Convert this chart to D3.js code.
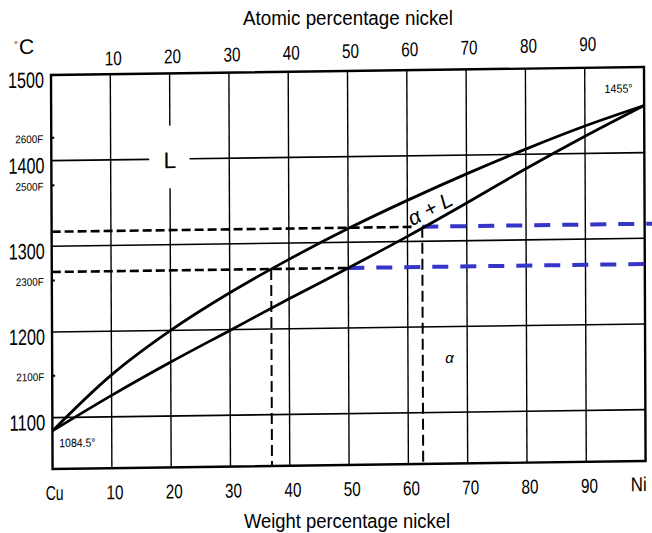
<!DOCTYPE html>
<html>
<head>
<meta charset="utf-8">
<script src="https://cdn.jsdelivr.net/npm/d3@7/dist/d3.min.js"></script>
<style>
  html, body { margin: 0; padding: 0; background: #fff; }
  svg { display: block; }
  text { font-family: "Liberation Sans", Arial, sans-serif; fill: #000; }
</style>
</head>
<body>
<svg id="chart" width="652" height="533"></svg>
<script>
// ---------- data ----------
const weightPct   = [0, 10, 20, 30, 40, 50, 60, 70, 80, 90, 100];
const liquidusC   = [1084.5, 1149, 1200, 1243, 1281, 1316, 1348, 1378, 1406, 1432, 1455];
const solidusC    = [1084.5, 1125, 1163, 1199, 1235, 1270, 1306, 1344, 1383, 1420, 1455];
const weightTicks = [10, 20, 30, 40, 50, 60, 70, 80, 90];
const atomicTicks = [10, 20, 30, 40, 50, 60, 70, 80, 90];
const tempTicks   = [1100, 1200, 1300, 1400, 1500];
const fahrenheitTicks = [2600, 2500, 2300, 2100];
const tieUpperC = 1317;   // upper tie line temperature
const tieLowerC = 1270;   // lower tie line temperature
const tieUpperBlack = [0, 61];      // wt% extent, black dashed
const tieUpperBlue  = [62.5, 103];  // wt% extent, blue dashed
const tieLowerBlack = [0, 50];
const tieLowerBlue  = [50, 103];
const dropLines = [ {x: 37, top: tieLowerC}, {x: 62.5, top: tieUpperC} ];
const domainX = [0, 100];
const domainY = [1040, 1500];

// ---------- layout ----------
const W = 593, H = 394;
const svg = d3.select("#chart");
svg.append("rect").attr("width", 652).attr("height", 533).attr("fill", "#fff");

const x = d3.scaleLinear().domain(domainX).range([0, W]);
const y = d3.scaleLinear().domain(domainY).range([H, 0]);

// the scanned figure is slightly skewed
const g = svg.append("g").attr("transform", "translate(51,75) matrix(1,-0.0135,0.004,1,0,0)");

function narrow(sel, perChar) {
  const s = String(sel.text());
  sel.attr("textLength", s.length * perChar).attr("lengthAdjust", "spacingAndGlyphs");
  return sel;
}

// grid: horizontal
const Lgap = [16.5, 23.3];       // wt% gap around "L" on the 1400 line
const LgapV = [1366, 1439];      // temp gap around "L" on the 20 line
tempTicks.filter(t => t < 1500).forEach(t => {
  const segs = t === 1400 ? [[0, Lgap[0]], [Lgap[1], 100]] : [[0, 100]];
  segs.forEach(s => g.append("line").attr("x1", x(s[0])).attr("x2", x(s[1]))
    .attr("y1", y(t)).attr("y2", y(t)).attr("stroke", "#000").attr("stroke-width", 1.6));
});
// grid: vertical
weightTicks.forEach(w => {
  const segs = w === 20 ? [[1500, LgapV[1]], [LgapV[0], domainY[0]]] : [[1500, domainY[0]]];
  segs.forEach(s => g.append("line").attr("x1", x(w)).attr("x2", x(w))
    .attr("y1", y(s[0])).attr("y2", y(s[1])).attr("stroke", "#000").attr("stroke-width", 1.4));
});

// frame
g.append("rect").attr("x", 0).attr("y", 0).attr("width", W).attr("height", H)
  .attr("fill", "none").attr("stroke", "#000").attr("stroke-width", 2.4);

// small ticks for Fahrenheit marks
const fToC = f => (f - 32) * 5 / 9;
fahrenheitTicks.forEach(f => {
  g.append("line").attr("x1", 0).attr("x2", 3).attr("y1", y(fToC(f))).attr("y2", y(fToC(f)))
    .attr("stroke", "#000").attr("stroke-width", 2);
});

// tie lines
function hDash(range, t, color, width, dash) {
  g.append("line").attr("x1", x(range[0])).attr("x2", x(range[1]))
    .attr("y1", y(t)).attr("y2", y(t))
    .attr("stroke", color).attr("stroke-width", width).attr("stroke-dasharray", dash);
}
hDash(tieUpperBlack, tieUpperC, "#000", 2.6, "9,4");
hDash(tieLowerBlack, tieLowerC, "#000", 2.6, "9,4");
hDash(tieUpperBlue, tieUpperC, "#3535c8", 4, "16,12");
hDash(tieLowerBlue, tieLowerC, "#3535c8", 4, "16,12");

// vertical dashed drop lines
dropLines.forEach(d => {
  g.append("line").attr("x1", x(d.x)).attr("x2", x(d.x))
    .attr("y1", y(d.top)).attr("y2", y(domainY[0]))
    .attr("stroke", "#000").attr("stroke-width", 2).attr("stroke-dasharray", "11,5");
});

// liquidus & solidus
const line = d3.line().x((d, i) => x(weightPct[i])).y(d => y(d)).curve(d3.curveCatmullRom.alpha(0.5));
g.append("path").attr("d", line(liquidusC)).attr("fill", "none").attr("stroke", "#000").attr("stroke-width", 2.8);
g.append("path").attr("d", line(solidusC)).attr("fill", "none").attr("stroke", "#000").attr("stroke-width", 2.8);

// left temperature labels
tempTicks.forEach(t => {
  narrow(g.append("text").attr("x", -7).attr("y", y(t) + 5)
    .attr("text-anchor", "end").attr("dominant-baseline", "central")
    .attr("font-size", 22).text(t), 9);
});
fahrenheitTicks.forEach(f => {
  narrow(g.append("text").attr("x", -8).attr("y", y(fToC(f)) + 1)
    .attr("text-anchor", "end").attr("dominant-baseline", "central")
    .attr("font-size", 11).text(f + "F"), 5.6);
});
g.append("text").attr("x", -37).attr("y", -31).attr("dominant-baseline", "central")
  .attr("font-size", 10).text("°");
g.append("text").attr("x", -32).attr("y", -29).attr("dominant-baseline", "central")
  .attr("font-size", 21).text("C");

// bottom labels
narrow(g.append("text").attr("x", x(0) + 2).attr("y", H + 24).attr("text-anchor", "middle")
  .attr("dominant-baseline", "central").attr("font-size", 20).text("Cu"), 9);
weightTicks.forEach(w => {
  narrow(g.append("text").attr("x", x(w) + 3).attr("y", H + 24).attr("text-anchor", "middle")
    .attr("dominant-baseline", "central").attr("font-size", 20).text(w), 8.5);
});
narrow(g.append("text").attr("x", x(100) - 7).attr("y", H + 23).attr("text-anchor", "middle")
  .attr("dominant-baseline", "central").attr("font-size", 20).text("Ni"), 8);

// top labels
const gt = svg.append("g").attr("transform", "translate(51,75) matrix(1,-0.03,0,1,0,0)");
atomicTicks.forEach(a => {
  narrow(gt.append("text").attr("x", x(a) + 3).attr("y", -15).attr("text-anchor", "middle")
    .attr("dominant-baseline", "central").attr("font-size", 20).text(a), 8.5);
});

// axis titles
svg.append("text").attr("x", 348).attr("y", 18).attr("text-anchor", "middle")
  .attr("dominant-baseline", "central").attr("font-size", 20)
  .attr("textLength", 210).attr("lengthAdjust", "spacingAndGlyphs").text("Atomic percentage nickel");
svg.append("text").attr("x", 347).attr("y", 521).attr("text-anchor", "middle")
  .attr("dominant-baseline", "central").attr("font-size", 20)
  .attr("textLength", 206).attr("lengthAdjust", "spacingAndGlyphs").text("Weight percentage nickel");

// region labels
g.append("text").attr("x", x(20)).attr("y", y(1400) + 1).attr("text-anchor", "middle")
  .attr("dominant-baseline", "central").attr("font-size", 23).text("L");
g.append("text").attr("text-anchor", "middle").attr("dominant-baseline", "central")
  .attr("font-size", 21).attr("font-style", "italic")
  .attr("transform", `translate(${x(63.8)},${y(1338)}) rotate(-27)`).text("α + L");
g.append("text").attr("x", x(67)).attr("y", y(1164)).attr("text-anchor", "middle")
  .attr("dominant-baseline", "central").attr("font-size", 15).attr("font-style", "italic").text("α");
narrow(g.append("text").attr("x", x(4.2)).attr("y", y(1070)).attr("text-anchor", "middle")
  .attr("dominant-baseline", "central").attr("font-size", 12).text("1084.5°"), 5.2);
narrow(g.append("text").attr("x", x(95.7)).attr("y", y(1475)).attr("text-anchor", "middle")
  .attr("dominant-baseline", "central").attr("font-size", 12).text("1455°"), 5.6);
</script>
</body>
</html>
